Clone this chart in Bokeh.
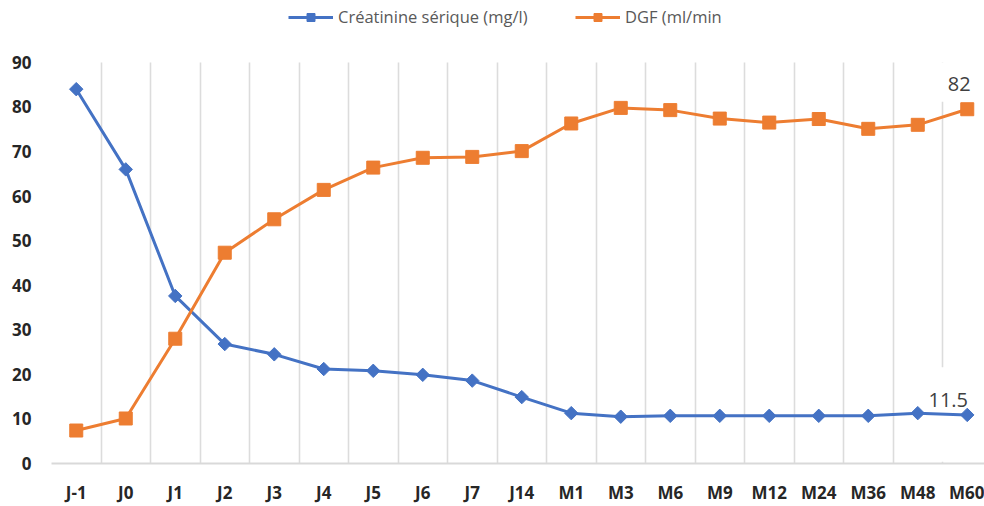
import math
from bokeh.plotting import figure
from bokeh.models import FixedTicker, Range1d, Legend, LegendItem, Label, BoxAnnotation
from bokeh.embed import file_html
from bokeh.resources import INLINE

categories = ["J-1", "J0", "J1", "J2", "J3", "J4", "J5", "J6", "J7", "J14",
              "M1", "M3", "M6", "M9", "M12", "M24", "M36", "M48", "M60"]
creatinine = [84, 66, 37.6, 26.8, 24.5, 21.2, 20.8, 19.9, 18.6, 14.9,
              11.3, 10.5, 10.7, 10.7, 10.7, 10.7, 10.7, 11.3, 10.9]
dgf = [7.4, 10.1, 28.0, 47.3, 54.8, 61.4, 66.4, 68.6, 68.8, 70.1,
       76.3, 79.8, 79.3, 77.4, 76.5, 77.3, 75.1, 76.0, 79.5]
y_ticks = [0, 10, 20, 30, 40, 50, 60, 70, 80, 90]
series_names = ["Créatinine sérique (mg/l)", "DGF (ml/min"]
end_labels = ["11.5", "82"]

BLUE = "#4472C4"
ORANGE = "#ED7D31"

xs = list(range(len(categories)))
last = len(categories) - 1
y_top = y_ticks[-1]

# frame spans the full height above the axis so the legend can sit inside it
p = figure(width=984, height=506, output_backend="svg", toolbar_location=None,
           x_range=Range1d(-0.5, -0.5 + 933 / 49.5), y_range=Range1d(0, y_top * 471 / 408),
           min_border_left=51, min_border_right=0, min_border_top=0, min_border_bottom=35)
p.outline_line_color = None
p.background_fill_color = "white"

# grids
p.ygrid.visible = False
p.xgrid.ticker = FixedTicker(ticks=[i - 0.5 for i in range(len(categories) + 1)])
p.xgrid.grid_line_color = "#DCDCDC"
p.xgrid.grid_line_width = 1.6
try:
    p.xgrid[0].cross_bounds = (0, y_top)
except Exception:
    p.add_layout(BoxAnnotation(bottom=y_top, fill_color="white", fill_alpha=1,
                               line_color=None, level="underlay"))

# white areas behind the end labels (gridline interrupted there)
p.add_layout(BoxAnnotation(left=last - 0.6, right=last - 0.4, bottom=81.2, top=y_top,
                           fill_color="white", fill_alpha=1, line_color=None, level="underlay"))
p.add_layout(BoxAnnotation(left=last - 0.6, right=last - 0.4, bottom=0.4, top=21.6,
                           fill_color="white", fill_alpha=1, line_color=None, level="underlay"))

# axes
p.xaxis.ticker = FixedTicker(ticks=xs)
p.xaxis.major_label_overrides = {i: c for i, c in enumerate(categories)}
p.yaxis.ticker = FixedTicker(ticks=y_ticks)
for ax in (p.xaxis[0], p.yaxis[0]):
    ax.major_tick_line_color = None
    ax.minor_tick_line_color = None
    ax.major_label_text_font = "Open Sans"
    ax.major_label_text_font_style = "bold"
    ax.major_label_text_font_size = "17px"
    ax.major_label_text_color = "#262626"
p.xaxis.axis_line_color = "#D9D9D9"
p.xaxis.axis_line_width = 2
p.xaxis.major_label_standoff = 11
p.yaxis.axis_line_color = None
p.yaxis.major_label_standoff = 14

# series
l1 = p.line(xs, creatinine, line_color=BLUE, line_width=3)
m1 = p.scatter(xs, creatinine, marker="square", angle=math.pi / 4, size=9.5,
               fill_color=BLUE, line_color=BLUE)
l2 = p.line(xs, dgf, line_color=ORANGE, line_width=3)
m2 = p.scatter(xs, dgf, marker="square", size=13, fill_color=ORANGE, line_color=ORANGE)

legend = Legend(items=[LegendItem(label=series_names[0], renderers=[l1, m1]),
                       LegendItem(label=series_names[1], renderers=[l2, m2])],
                orientation="horizontal", location=(237, 435),
                border_line_color=None, background_fill_alpha=0,
                padding=0, margin=0, spacing=32, label_standoff=5,
                glyph_width=45, glyph_height=20, label_height=20, label_width=205,
                label_text_font="Open Sans", label_text_font_size="16.5px",
                label_text_color="#595959")
p.add_layout(legend, "center")

# end-point data labels
p.add_layout(Label(x=last, y=creatinine[last], text=end_labels[0], x_offset=-19, y_offset=15,
                   text_align="center", text_baseline="middle",
                   text_font="Open Sans", text_font_size="20px", text_color="#404040"))
p.add_layout(Label(x=last, y=dgf[last], text=end_labels[1], x_offset=-8, y_offset=25,
                   text_align="center", text_baseline="middle",
                   text_font="Open Sans", text_font_size="20px", text_color="#404040"))

open("out.html", "w").write(file_html(p, INLINE))
